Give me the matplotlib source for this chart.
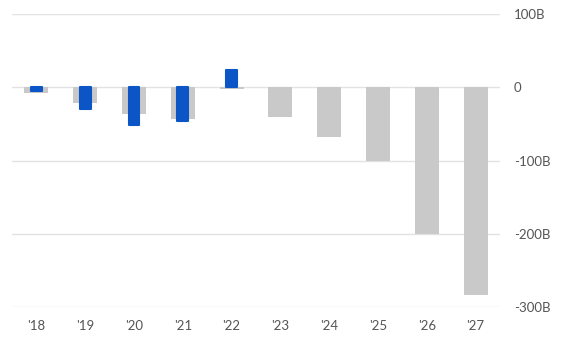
"""Annual balance: estimates (grey) vs actuals (blue), values in billions."""

import matplotlib.pyplot as plt
import numpy as np

years = ["'18", "'19", "'20", "'21", "'22", "'23", "'24", "'25", "'26", "'27"]
estimates = [-8, -22, -37, -44, -3, -41, -68, -100, -200, -283]
actuals = [-5, -30, -52, -46, 23]

y_ticks = [100, 0, -100, -200, -300]
y_labels = ["100B", "0", "-100B", "-200B", "-300B"]

GREY = "#c9c9c9"
BLUE = "#0b55c6"
TEXT = "#555555"

plt.rcParams["font.family"] = ["Lato", "DejaVu Sans"]

fig = plt.figure(figsize=(5.7, 3.44), dpi=100)
ax = fig.add_axes([12 / 570, 1 - 307 / 344, 488 / 570, 293 / 344])

x = np.arange(len(years))
ax.bar(x, estimates, width=0.49, color=GREY, zorder=2)
ax.bar(x[:len(actuals)], actuals, width=0.22, color=BLUE, edgecolor=BLUE,
       linewidth=1.5, joinstyle="round", zorder=3)

ax.set_xlim(-0.5, len(years) - 0.5)
ax.set_ylim(-300, 100)
for t in y_ticks:
    ax.axhline(t, color="#e2e2e2", linewidth=1.0, zorder=1)

ax.set_xticks(x)
ax.set_xticklabels(years)
ax.set_yticks(y_ticks)
ax.set_yticklabels(y_labels)
ax.yaxis.tick_right()
ax.tick_params(axis="both", length=0, labelsize=9.5, colors=TEXT)
ax.tick_params(axis="y", pad=10)
ax.tick_params(axis="x", pad=9)
for spine in ax.spines.values():
    spine.set_visible(False)

fig.savefig("out.png", dpi=100)
